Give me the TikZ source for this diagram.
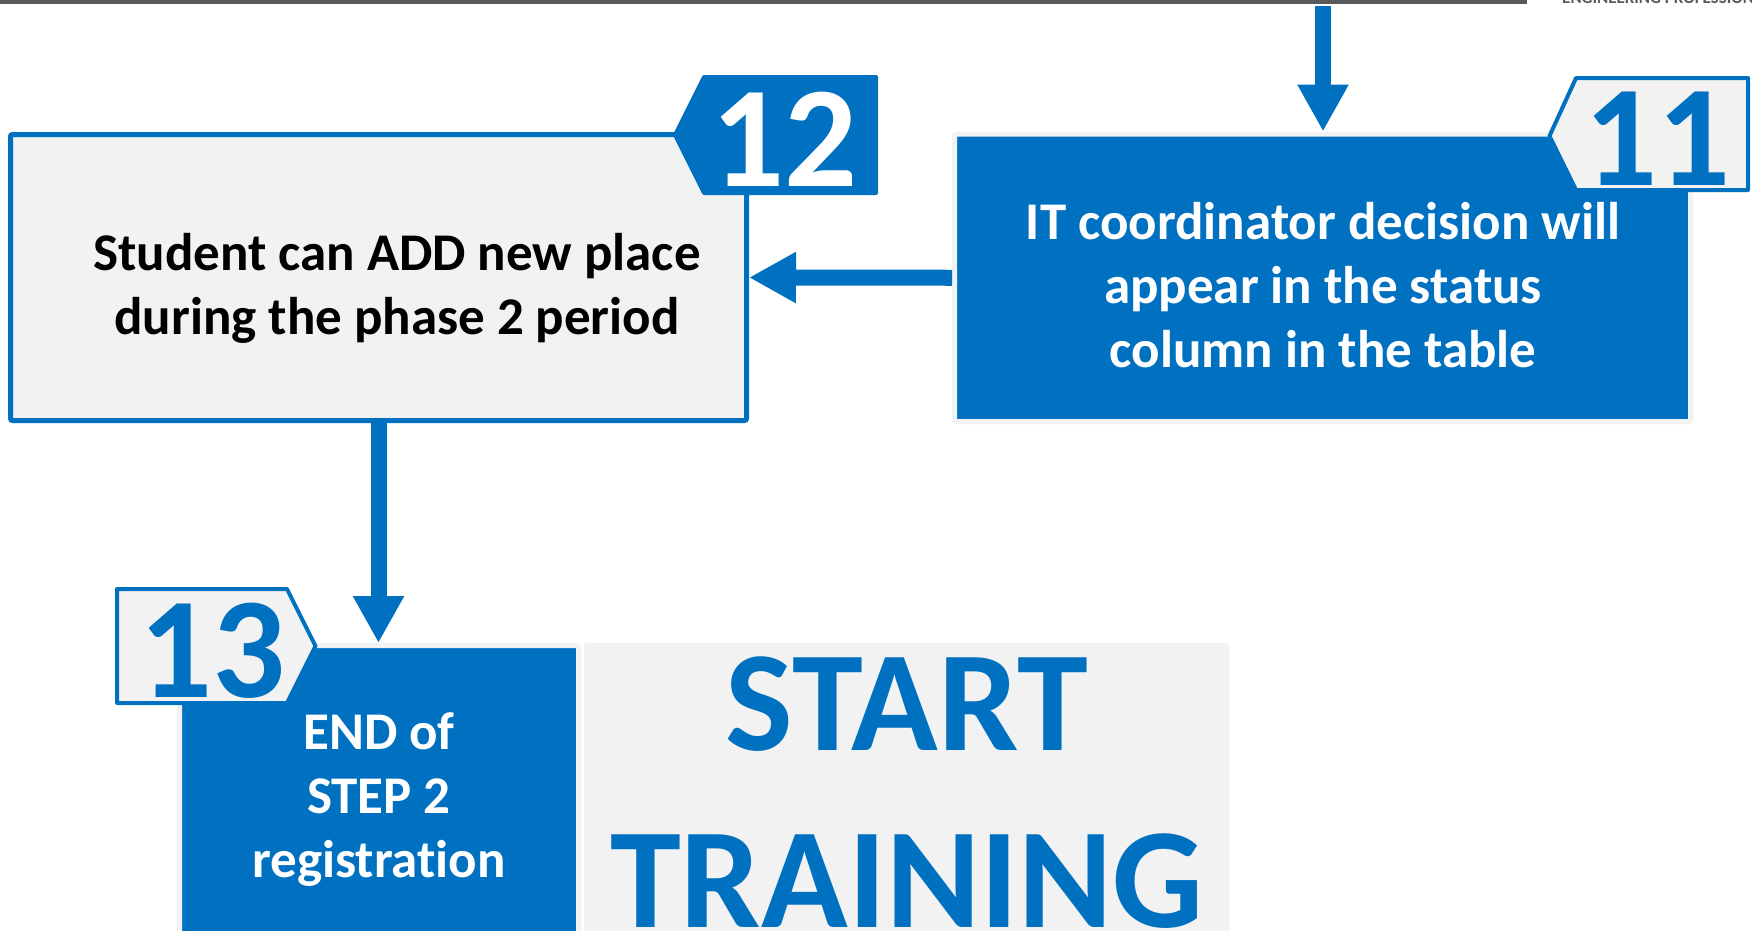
\documentclass[tikz,border=0pt]{standalone}
\usepackage{fontspec}
\setmainfont{Carlito}[Ligatures=CommonOff]
\usepackage{xcolor}
\usetikzlibrary{arrows.meta}

\definecolor{itblue}{HTML}{0070C0}
\definecolor{itgrey}{HTML}{F2F2F2}
\definecolor{rulegrey}{HTML}{595959}

\tikzset{
  greybox/.style={draw=itblue, line width=5pt, fill=itgrey, rounded corners=2pt, inner sep=0pt},
  bluebox/.style={draw=itgrey, line width=5pt, fill=itblue, rounded corners=2pt, inner sep=0pt},
  boxtext/.style={font=\bfseries\fontsize{53}{64}\selectfont, align=center, inner sep=0pt},
  badgenum/.style={font=\bfseries\fontsize{144}{144}\selectfont, inner sep=0pt},
  badgeline/.style={line width=4pt, line join=round, draw=itblue},
  flow/.style={draw=itblue, line width=16pt, -{Triangle[width=48pt,length=47pt]}},
}

\begin{document}
\begin{tikzpicture}[x=1pt, y=-1pt]
        \useasboundingbox (0,0) rectangle (1752,930);

        % header rule
        \fill[rulegrey] (0,0) rectangle (1527,4);
        \node[anchor=base west, inner sep=0pt, text=rulegrey, font=\bfseries\fontsize{17}{17}\selectfont] (hdr) at (1562,3) {ENGINEERING PROFESSIONAL};

        % boxes
        \node[greybox, minimum width=736pt, minimum height=286pt] (b12) at (378.5,277.5) {};
        \node[bluebox, minimum width=736pt, minimum height=287.5pt] (b11) at (1322.5,277.75) {};
        \node[bluebox, minimum width=399pt, minimum height=314.5pt] (b13) at (379,802.75) {};
        \node[fill=itgrey, rounded corners=3pt, minimum width=645pt, minimum height=320pt] (train) at (906.5,803) {};

        % box texts
        \node[boxtext] (t12) at (397,288) {Student can ADD new place\\during the phase 2 period};
        \node[boxtext, text=white] (t11) at (1323,285) {IT coordinator decision will\\appear in the status\\column in the table};
        \node[boxtext, text=white] (t13) at (379,800) {END of\\STEP 2\\registration};
        \node[align=center, inner sep=0pt, text=itblue, font=\bfseries\fontsize{143}{177}\selectfont] (go) at (907,793) {START\\TRAINING};

        % badges
        \filldraw[badgeline, fill=itblue] (675,135) -- (704,77) -- (876,77) -- (876,193) -- (704,193) -- cycle;
        \filldraw[badgeline, fill=itgrey] (1549.5,136) -- (1576,78) -- (1748,78) -- (1748,190) -- (1576,190) -- cycle;
        \filldraw[badgeline, fill=itgrey] (117,589) -- (287,589) -- (315.5,646) -- (287,703) -- (117,703) -- cycle;
        \node[badgenum, text=white] (n12) at (784,139) {12};
        \node[badgenum, text=itblue] (n11) at (1657,139) {11};
        \node[badgenum, text=itblue] (n13) at (212,651) {13};

        % connectors
        \coordinate (feed) at (1323,6);
        \draw[flow] (feed) -- (feed |- b11.north);
        \draw[flow] (b11.west) -- (b12.east);
        \draw[flow] (b12.south) -- (b12.south |- b13.north);
    \end{tikzpicture}
\end{document}
